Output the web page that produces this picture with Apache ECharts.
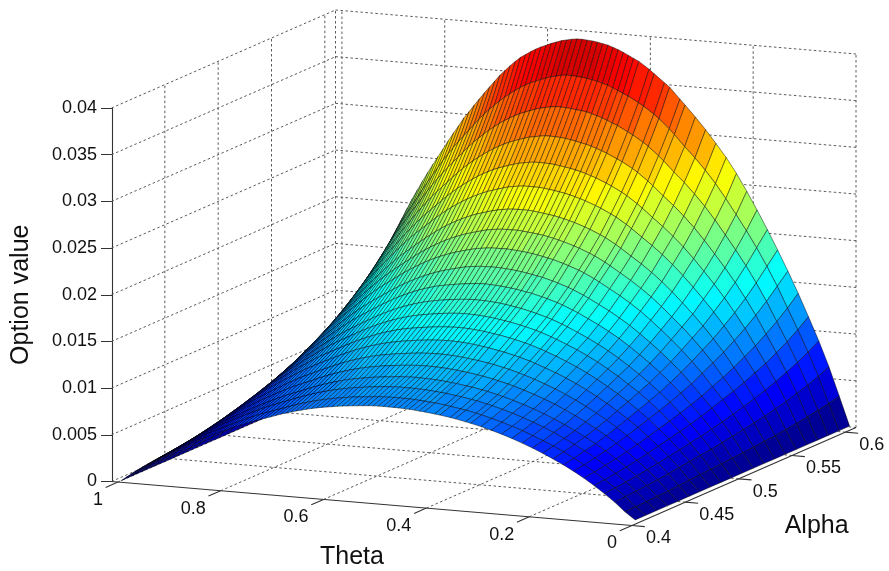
<!DOCTYPE html><html><head><meta charset="utf-8"><style>html,body{margin:0;background:#fff}#c{width:889px;height:571px}</style>
<script src="https://cdn.jsdelivr.net/npm/echarts@6/dist/echarts.min.js"></script></head><body><div id="c"></div><script>
const thetas=[0,.01,.02,.03,.04,.05,.06,.07,.08,.09,.1,.11,.12,.13,.14,.15,.16,.17,.18,.19,.2,.21,.22,.23,.24,.25,.26,.27,.28,.29,.3,.31,.32,.33,.34,.35,.36,.37,.38,.39,.4,.41,.42,.43,.44,.45,.46,.47,.48,.49,.5,.51,.52,.53,.54,.55,.56,.57,.58,.59,.6,.61,.62,.63,.64,.65,.66,.67,.68,.69,.7,.71,.72,.73,.74,.75,.76,.77,.78,.79,.8,.81,.82,.83,.84,.85,.86,.87,.88,.89,.9,.91,.92,.93,.94,.95,.96,.97,.98,.99,1];
const meshColumns=[0,2,4,6,8,10,12,14,16,18,20,22,24,26,28,30,32,33,35,36,38,39,41,42,43,44,45,46,47,48,49,50,51,52,53,54,55,56,57,58,59,60,61,62,63,64,65,66,67,68,69,70,71,72,73,74,75,76,77,78,79,80,81,82,83,84,85,86,87,88,89,90,91,92,93,94,95,96,97,98,99,100];
const alphas=[.403,.41305,.4231,.43315,.4432,.45325,.4633,.47335,.4834,.49345,.5035,.51355,.5236,.53365,.5437,.55375,.5638,.57385,.5839,.59395,.604];
const zRows=[
[45,69,122,171,217,259,299,338,376,412,446,479,511,542,570,597,624,650,675,698,722,744,765,786,806,824,842,859,875,891,905,918,931,943,955,965,974,982,991,998,1005,1011,1015,1021,1025,1028,1030,1031,1032,1032,1031,1029,1026,1021,1016,1011,1005,999,992,983,975,966,956,944,932,918,904,889,872,855,836,817,799,780,762,742,721,700,677,654,630,606,581,556,532,506,478,450,421,391,361,330,298,265,231,196,160,122,83,41,0],
[45,71,126,177,224,268,309,349,389,426,461,495,529,561,590,619,648,675,701,725,750,773,795,817,838,858,876,893,910,927,942,956,970,983,996,1006,1016,1025,1033,1042,1049,1056,1060,1066,1070,1074,1076,1077,1078,1078,1077,1075,1072,1067,1062,1057,1051,1045,1038,1029,1020,1010,1000,988,975,961,946,930,912,894,875,856,836,817,798,777,756,733,709,685,660,635,609,583,557,530,501,473,442,411,379,346,313,278,243,206,168,128,87,43,0],
[45,74,131,184,233,279,322,364,405,444,482,518,553,587,618,649,678,707,734,760,786,810,834,857,879,900,919,937,956,973,989,1004,1018,1032,1045,1057,1067,1076,1086,1094,1102,1109,1114,1120,1125,1129,1131,1133,1134,1134,1134,1132,1129,1125,1119,1113,1107,1100,1093,1085,1075,1065,1054,1041,1028,1014,998,981,963,944,924,904,883,863,842,821,798,774,749,723,697,671,643,616,589,560,530,499,467,434,401,367,331,294,257,218,178,135,92,46,0],
[45,77,136,192,243,291,336,379,422,462,502,540,577,613,645,677,708,738,766,793,821,846,872,896,919,941,961,981,1000,1018,1035,1051,1066,1081,1095,1107,1119,1129,1139,1147,1156,1163,1169,1175,1181,1185,1188,1190,1191,1192,1191,1189,1186,1181,1175,1170,1163,1157,1149,1140,1131,1120,1109,1096,1082,1067,1050,1033,1014,994,973,951,930,908,887,864,840,815,789,762,734,707,678,649,620,590,558,526,492,458,423,387,349,310,271,230,187,143,97,48,0],
[45,80,143,202,256,307,354,400,445,488,529,569,608,646,680,714,747,779,809,838,867,894,921,946,971,994,1016,1036,1057,1076,1094,1112,1128,1144,1159,1172,1185,1195,1206,1216,1225,1233,1239,1247,1252,1257,1260,1263,1264,1265,1264,1262,1258,1253,1248,1242,1235,1228,1220,1211,1202,1191,1178,1165,1150,1134,1117,1098,1078,1057,1035,1012,989,967,944,920,895,868,840,811,782,753,722,692,662,630,596,561,526,489,452,413,373,332,289,245,200,152,104,52,0],
[45,85,151,213,270,323,373,421,469,514,557,600,641,682,718,754,789,822,854,885,916,945,974,1001,1027,1052,1075,1097,1119,1140,1159,1178,1196,1213,1229,1244,1257,1269,1281,1291,1301,1310,1316,1324,1331,1336,1340,1343,1345,1345,1344,1341,1338,1333,1327,1321,1314,1307,1298,1289,1279,1267,1254,1240,1224,1207,1189,1170,1149,1126,1103,1079,1055,1030,1006,981,954,925,896,865,834,803,770,738,706,672,636,599,561,522,483,441,399,355,309,262,214,163,111,55,0],
[45,90,160,225,285,341,394,445,496,543,588,634,678,722,760,799,837,873,907,940,973,1004,1034,1063,1091,1117,1142,1165,1189,1211,1231,1252,1271,1290,1307,1323,1337,1350,1363,1374,1385,1395,1403,1411,1419,1425,1430,1433,1435,1436,1434,1431,1428,1423,1417,1411,1403,1395,1387,1377,1367,1354,1341,1325,1309,1291,1271,1251,1228,1205,1180,1154,1128,1102,1077,1049,1021,991,959,926,893,860,825,790,756,719,680,641,601,559,517,473,427,379,331,281,229,174,118,59,0],
[45,95,168,238,301,360,416,470,523,573,621,670,717,763,804,845,885,923,959,994,1029,1062,1095,1126,1156,1184,1210,1236,1261,1284,1306,1328,1349,1369,1388,1405,1421,1434,1448,1460,1472,1482,1490,1499,1507,1513,1518,1523,1525,1526,1525,1522,1519,1514,1508,1501,1494,1486,1477,1468,1457,1444,1429,1413,1395,1376,1355,1333,1309,1285,1258,1231,1203,1176,1148,1119,1089,1057,1023,988,953,918,881,844,807,768,727,685,642,598,553,505,457,406,354,300,245,186,127,63,0],
[45,100,177,250,317,379,438,495,551,604,654,706,756,804,848,891,934,974,1012,1050,1087,1122,1157,1190,1222,1252,1280,1307,1334,1359,1382,1406,1428,1450,1470,1488,1505,1520,1534,1547,1560,1571,1579,1589,1597,1604,1609,1614,1617,1619,1620,1618,1614,1609,1603,1596,1588,1580,1571,1560,1549,1535,1519,1503,1484,1464,1442,1419,1394,1368,1340,1311,1282,1252,1223,1192,1160,1125,1090,1052,1015,978,938,899,860,819,775,731,685,638,590,539,487,433,378,320,261,199,135,67,0],
[45,103,184,261,331,398,460,521,581,637,689,744,797,848,894,940,985,1027,1068,1108,1147,1184,1222,1257,1291,1323,1353,1382,1410,1437,1462,1488,1512,1536,1558,1577,1595,1611,1627,1641,1655,1667,1676,1687,1695,1703,1708,1713,1716,1718,1719,1717,1713,1708,1702,1695,1687,1679,1669,1658,1646,1631,1615,1597,1578,1556,1534,1509,1483,1455,1426,1395,1364,1333,1302,1269,1234,1198,1160,1121,1081,1041,999,958,916,873,826,779,730,680,630,576,520,462,403,342,279,212,144,72,0],
[45,106,193,274,350,420,486,551,615,675,729,787,844,899,949,998,1046,1091,1135,1177,1219,1259,1299,1337,1374,1408,1440,1471,1502,1530,1557,1585,1611,1636,1660,1681,1701,1718,1735,1750,1765,1778,1787,1798,1807,1815,1821,1827,1831,1834,1837,1835,1831,1826,1819,1812,1804,1795,1785,1775,1762,1746,1729,1710,1689,1666,1642,1616,1588,1558,1527,1494,1461,1428,1395,1360,1323,1284,1244,1201,1159,1116,1072,1027,983,936,886,836,784,730,676,618,558,496,433,367,299,228,155,77,0],
[45,110,202,288,369,443,513,583,652,716,771,834,894,954,1007,1059,1111,1160,1207,1252,1297,1340,1383,1424,1463,1500,1534,1567,1600,1630,1659,1689,1717,1745,1771,1794,1815,1834,1852,1869,1885,1899,1909,1921,1931,1940,1947,1953,1958,1962,1965,1964,1963,1961,1956,1949,1941,1928,1915,1901,1887,1870,1852,1831,1809,1785,1759,1731,1702,1670,1637,1602,1566,1531,1496,1458,1419,1378,1335,1289,1244,1198,1150,1103,1055,1005,951,897,841,784,726,664,600,533,465,394,322,245,166,83,0],
[45,115,214,305,391,470,546,620,694,760,823,890,955,1018,1075,1131,1186,1238,1288,1337,1385,1432,1478,1522,1565,1605,1642,1677,1713,1746,1777,1810,1841,1871,1899,1925,1948,1968,1988,2006,2024,2039,2050,2063,2074,2084,2091,2098,2103,2107,2111,2110,2109,2108,2102,2095,2087,2074,2060,2045,2030,2012,1992,1971,1947,1922,1894,1864,1833,1799,1764,1726,1688,1650,1612,1572,1529,1485,1438,1390,1341,1292,1240,1189,1138,1084,1027,969,909,847,785,717,648,576,502,426,348,265,180,89,0],
[45,118,224,322,413,497,578,657,733,806,872,944,1017,1084,1145,1205,1265,1321,1374,1426,1475,1525,1575,1622,1668,1711,1751,1789,1827,1863,1896,1932,1965,1998,2028,2056,2080,2102,2124,2144,2163,2179,2193,2207,2219,2230,2238,2245,2250,2256,2261,2260,2260,2258,2253,2245,2237,2222,2208,2192,2177,2158,2137,2114,2089,2062,2032,2001,1967,1931,1894,1853,1812,1772,1731,1688,1643,1595,1545,1493,1441,1389,1333,1278,1223,1166,1104,1042,978,912,845,772,698,620,541,459,374,285,193,96,0],
[45,122,234,340,434,527,612,697,777,855,928,1005,1080,1152,1217,1281,1344,1405,1462,1517,1573,1627,1681,1732,1781,1827,1870,1912,1953,1991,2027,2066,2102,2138,2171,2201,2228,2252,2276,2297,2318,2335,2350,2365,2378,2390,2398,2406,2413,2420,2425,2425,2425,2423,2418,2410,2401,2386,2372,2354,2339,2319,2296,2272,2245,2216,2184,2150,2114,2075,2036,1992,1949,1905,1861,1815,1766,1715,1662,1606,1550,1494,1434,1375,1316,1254,1188,1122,1053,982,910,832,752,668,582,494,403,307,208,104,0],
[45,130,249,359,463,562,652,743,828,910,992,1075,1156,1234,1305,1374,1443,1508,1570,1630,1690,1748,1806,1862,1914,1964,2011,2056,2100,2141,2180,2223,2262,2302,2338,2371,2400,2427,2453,2476,2499,2518,2535,2552,2567,2580,2590,2599,2607,2614,2620,2620,2621,2620,2614,2605,2596,2580,2565,2547,2530,2508,2484,2458,2429,2398,2364,2328,2289,2248,2205,2157,2110,2063,2016,1966,1914,1858,1801,1740,1680,1619,1555,1491,1427,1360,1288,1216,1142,1065,987,902,815,724,632,536,437,333,226,113,0],
[45,138,265,382,493,600,696,790,880,970,1058,1148,1235,1319,1395,1471,1544,1614,1681,1746,1811,1874,1936,1996,2053,2107,2157,2206,2253,2298,2340,2387,2431,2474,2514,2550,2583,2611,2640,2666,2691,2712,2731,2750,2766,2780,2791,2801,2810,2818,2824,2825,2827,2826,2819,2809,2800,2784,2768,2749,2731,2708,2682,2654,2623,2589,2553,2514,2473,2429,2383,2332,2281,2230,2179,2125,2069,2009,1947,1882,1817,1751,1682,1613,1544,1472,1395,1317,1237,1154,1070,978,884,785,685,581,474,361,245,122,0],
[45,148,284,410,529,643,746,848,944,1040,1135,1232,1326,1416,1498,1579,1659,1734,1806,1876,1946,2014,2082,2147,2209,2268,2323,2375,2427,2476,2521,2572,2620,2667,2711,2750,2786,2817,2849,2876,2904,2927,2948,2969,2988,3004,3016,3028,3038,3047,3054,3057,3059,3058,3050,3039,3030,3013,2995,2976,2956,2931,2903,2873,2840,2804,2765,2724,2680,2634,2583,2528,2473,2418,2363,2305,2243,2179,2112,2041,1971,1900,1825,1750,1676,1598,1514,1430,1343,1253,1163,1063,961,854,744,632,515,392,266,133,0],
[45,158,305,439,566,688,798,907,1011,1114,1218,1323,1425,1524,1613,1701,1788,1870,1948,2024,2100,2174,2248,2319,2387,2451,2510,2567,2623,2677,2726,2782,2835,2886,2935,2978,3017,3051,3086,3116,3147,3174,3195,3220,3242,3260,3276,3291,3300,3306,3313,3317,3320,3320,3312,3301,3290,3273,3254,3233,3212,3185,3155,3123,3087,3048,3006,2961,2913,2863,2809,2749,2690,2630,2570,2507,2440,2371,2298,2221,2145,2068,1986,1905,1825,1739,1649,1558,1463,1365,1267,1158,1047,930,811,688,561,427,290,144,0],
[45,171,328,472,610,741,859,977,1089,1200,1312,1426,1537,1644,1740,1836,1930,2018,2104,2186,2268,2349,2429,2506,2580,2649,2714,2776,2837,2895,2949,3011,3068,3125,3178,3225,3268,3305,3344,3377,3410,3438,3463,3489,3513,3536,3553,3569,3581,3590,3598,3603,3606,3607,3600,3587,3575,3556,3536,3513,3493,3464,3432,3396,3357,3316,3270,3222,3170,3115,3057,2992,2927,2862,2797,2729,2657,2581,2502,2419,2336,2252,2163,2075,1987,1895,1796,1698,1594,1488,1381,1262,1141,1014,884,750,612,465,316,157,0],
[45,185,355,511,660,802,930,1058,1179,1299,1420,1539,1649,1759,1866,1973,2075,2178,2276,2371,2466,2556,2647,2734,2809,2880,2951,3022,3089,3152,3215,3274,3334,3393,3452,3511,3554,3598,3641,3685,3728,3760,3787,3815,3842,3866,3886,3906,3917,3929,3937,3941,3945,3945,3937,3925,3913,3894,3874,3850,3827,3799,3767,3732,3697,3649,3598,3543,3487,3420,3353,3286,3215,3144,3069,2998,2911,2829,2742,2651,2564,2474,2383,2288,2189,2091,1980,1870,1756,1637,1519,1389,1255,1116,974,828,675,513,347,178,0]];
const zTicks=[0,.005,.01,.015,.02,.025,.03,.035,.04];
const thetaTicks=[0,.2,.4,.6,.8,1];
const alphaTicks=[.4,.45,.5,.55,.6];
const thetaLabels=['0','0.2','0.4','0.6','0.8','1'];
const alphaLabels=['0.4','0.45','0.5','0.55','0.6'];
const TH=1.0125,AL0=.4,AL1=.61,ZMAX=.04,ZSCALE=1e-5;
function proj(t,a,z){const f=(a-AL0)/(AL1-AL0);
 return [632-t/TH*520.5+f*224, 525.5-t/TH*44-f*98-z/ZMAX*373.5];}
const stops=[[0,0,0,143],[.125,0,0,255],[.375,0,255,255],[.625,255,255,0],[.875,255,0,0],[1,128,0,0]];
function jet(v){const t=Math.min(.9999,Math.max(0,v));const q=(Math.floor(t*64)+.5)/64;
 for(let i=1;i<stops.length;i++){if(q<=stops[i][0]){const a=stops[i-1],b=stops[i],k=(q-a[0])/(b[0]-a[0]);
  return 'rgb('+[1,2,3].map(n=>Math.round(a[n]+(b[n]-a[n])*k)).join(',')+')';}}}
const CMAX=3945;
function seg(api,p,q,style){const A=api.coord(p),B=api.coord(q);
 return {type:'line',shape:{x1:A[0],y1:A[1],x2:B[0],y2:B[1]},style:style};}
function label(api,p,dx,dy,text,align,size){const A=api.coord(p);
 return {type:'text',style:{text:text,x:A[0]+dx,y:A[1]+dy,fontSize:size,fontFamily:'Liberation Sans',fill:'#111',align:align,verticalAlign:'middle'}};}
const dash={stroke:'#5a5a5a',lineWidth:1,lineDash:[2.5,2.5],fill:null};
const solid={stroke:'#333',lineWidth:1.1,fill:null};
function renderGrid(params,api){const ch=[];const L=(a,b)=>ch.push(seg(api,a,b,dash));
 zTicks.forEach(z=>{L(proj(TH,AL0,z),proj(TH,AL1,z));L(proj(TH,AL1,z),proj(0,AL1,z));});
 alphaTicks.slice(1).forEach(a=>{L(proj(TH,a,0),proj(TH,a,ZMAX));L(proj(0,a,0),proj(TH,a,0));});
 thetaTicks.slice(1).forEach(t=>{L(proj(t,AL1,0),proj(t,AL1,ZMAX));L(proj(t,AL0,0),proj(t,AL1,0));});
 L(proj(0,AL1,0),proj(0,AL1,ZMAX));L(proj(TH,AL1,0),proj(TH,AL1,ZMAX));
 return {type:'group',children:ch};}
function renderSurface(params,api){const ch=[];
 for(let j=alphas.length-2;j>=0;j--)for(let k=meshColumns.length-2;k>=0;k--){
  const c=meshColumns[k],d=meshColumns[k+1];
  const pts=[[c,j],[d,j],[d,j+1],[c,j+1]].map(([m,n])=>api.coord(proj(thetas[m],alphas[n],zRows[n][m]*ZSCALE)));
  ch.push({type:'polygon',shape:{points:pts},style:{fill:jet(zRows[j][c]/CMAX),stroke:'rgba(0,0,0,.75)',lineWidth:.6}});}
 return {type:'group',children:ch};}
function renderAxes(params,api){const ch=[];
 ch.push(seg(api,proj(TH,AL0,0),proj(0,AL0,0),solid));
 ch.push(seg(api,proj(0,AL0,0),proj(0,AL1,0),solid));
 thetaTicks.forEach((t,i)=>{ch.push(seg(api,proj(t,AL0,0),proj(t,AL0-.0115,0),solid));
  ch.push(label(api,proj(t,AL0,0),-15,18,thetaLabels[i],'right',18));});
 alphaTicks.forEach((a,i)=>{ch.push(seg(api,proj(0,a,0),proj(-.025,a,0),solid));
  ch.push(label(api,proj(0,a,0),14,13,alphaLabels[i],'left',18));});
 ch.push(label(api,proj(.5,AL0,0),-23,53,'Theta','center',25));
 ch.push(label(api,proj(0,.5,0),78,47,'Alpha','center',25));
 return {type:'group',children:ch};}
const chart=echarts.init(document.getElementById('c'),null,{renderer:'canvas'});
chart.setOption({animation:false,
 grid:[{left:0,top:0,width:889,height:571},{left:112,top:108,width:1,height:373.5}],
 xAxis:[{type:'value',min:0,max:889,show:false},{type:'value',gridIndex:1,show:false}],
 yAxis:[{type:'value',min:0,max:571,inverse:true,show:false},
  {type:'value',gridIndex:1,min:0,max:ZMAX,interval:.005,position:'left',
   axisLine:{show:true,lineStyle:{color:'#333',width:1.1}},axisTick:{show:true,length:11,lineStyle:{color:'#333'}},
   splitLine:{show:false},
   axisLabel:{margin:15,fontSize:18,fontFamily:'Liberation Sans',color:'#111',formatter:v=>String(+v.toFixed(3))},
   name:'Option value',nameLocation:'middle',nameGap:78,nameRotate:90,
   nameTextStyle:{fontSize:25,fontFamily:'Liberation Sans',color:'#111'}}],
 series:[
  {type:'custom',coordinateSystem:'cartesian2d',xAxisIndex:0,yAxisIndex:0,z:1,clip:false,silent:true,data:[[0,0]],renderItem:renderGrid},
  {type:'custom',coordinateSystem:'cartesian2d',xAxisIndex:0,yAxisIndex:0,z:2,clip:false,silent:true,data:[[0,0]],renderItem:renderSurface},
  {type:'custom',coordinateSystem:'cartesian2d',xAxisIndex:0,yAxisIndex:0,z:3,clip:false,silent:true,data:[[0,0]],renderItem:renderAxes}]});
</script></body></html>
